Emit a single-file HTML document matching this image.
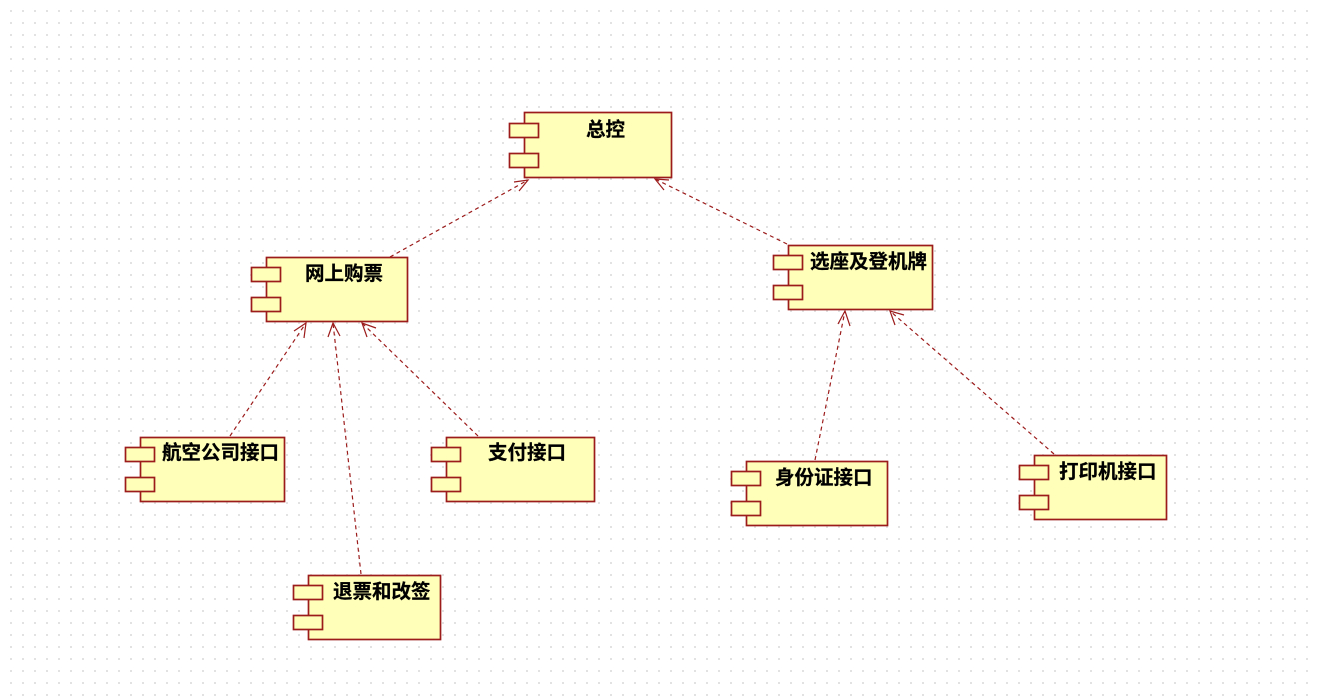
<!DOCTYPE html>
<html><head><meta charset="utf-8"><style>
html,body{margin:0;padding:0;background:#fff;width:1318px;height:697px;overflow:hidden}
svg{display:block;filter:blur(0.35px)}
text{font-family:"Liberation Sans","Noto Sans CJK SC",sans-serif;font-weight:700;font-size:19.5px;fill:#000;stroke:#000;stroke-width:.25;text-anchor:start}
.b{fill:#ffffb9;stroke:#9c1c1c;stroke-width:1.7}
.l{stroke:#9c1c1c;stroke-width:1.2;stroke-dasharray:4 3.5;fill:none}
.a{stroke:#9c1c1c;stroke-width:1.2;fill:none}
</style></head><body>
<svg width="1318" height="697" viewBox="0 0 1318 697" xmlns="http://www.w3.org/2000/svg">
<defs>
<pattern id="d" x="0" y="0" width="12" height="12" patternUnits="userSpaceOnUse"><rect x="10" y="10" width="2" height="2" fill="#e2e2e2"/></pattern>
</defs>
<rect width="1318" height="697" fill="#fff"/>
<rect width="1318" height="697" fill="url(#d)"/>

<path class="l" d="M390 257L528 180"/><path class="a" d="M514 182L528 180L519 191"/>
<path class="l" d="M787 244L655 179"/><path class="a" d="M669 180L655 179L664 190"/>
<path class="l" d="M230 436L306 323"/><path class="a" d="M294 331L306 323L304 338"/>
<path class="l" d="M361 574L333 323"/><path class="a" d="M328 337L333 323L340 336"/>
<path class="l" d="M478 436L362 323"/><path class="a" d="M367 337L362 323L376 328"/>
<path class="l" d="M815 460L845 311"/><path class="a" d="M838 324L845 311L850 326"/>
<path class="l" d="M1054 454L890 311"/><path class="a" d="M895 325L890 311L904 315"/>

<rect class="b" x="524.500" y="112.500" width="147" height="65"/><rect class="b" x="509.500" y="123.500" width="29" height="14"/><rect class="b" x="509.500" y="153.500" width="29" height="14"/>
<text x="586" y="136">总控</text>

<rect class="b" x="266.500" y="257.500" width="141" height="64"/><rect class="b" x="251.500" y="267.500" width="29" height="14"/><rect class="b" x="251.500" y="297.500" width="29" height="14"/>
<text x="305" y="280">网上购票</text>

<rect class="b" x="788.500" y="245.500" width="144" height="64"/><rect class="b" x="773.500" y="255.500" width="29" height="14"/><rect class="b" x="773.500" y="285.500" width="29" height="14"/>
<text x="810" y="268">选座及登机牌</text>

<rect class="b" x="140.500" y="437.500" width="144" height="64"/><rect class="b" x="125.500" y="447.500" width="29" height="14"/><rect class="b" x="125.500" y="477.500" width="29" height="14"/>
<text x="162" y="459">航空公司接口</text>

<rect class="b" x="446.500" y="437.500" width="148" height="64"/><rect class="b" x="431.500" y="447.500" width="29" height="14"/><rect class="b" x="431.500" y="477.500" width="29" height="14"/>
<text x="488" y="459">支付接口</text>

<rect class="b" x="308.500" y="575.500" width="132" height="64"/><rect class="b" x="293.500" y="585.500" width="29" height="14"/><rect class="b" x="293.500" y="615.500" width="29" height="14"/>
<text x="333" y="598">退票和改签</text>

<rect class="b" x="746.500" y="461.500" width="141" height="64"/><rect class="b" x="731.500" y="471.500" width="29" height="14"/><rect class="b" x="731.500" y="501.500" width="29" height="14"/>
<text x="775" y="484">身份证接口</text>

<rect class="b" x="1034.500" y="455.500" width="132" height="64"/><rect class="b" x="1019.500" y="465.500" width="29" height="14"/><rect class="b" x="1019.500" y="495.500" width="29" height="14"/>
<text x="1059" y="478">打印机接口</text>
</svg>
</body></html>
